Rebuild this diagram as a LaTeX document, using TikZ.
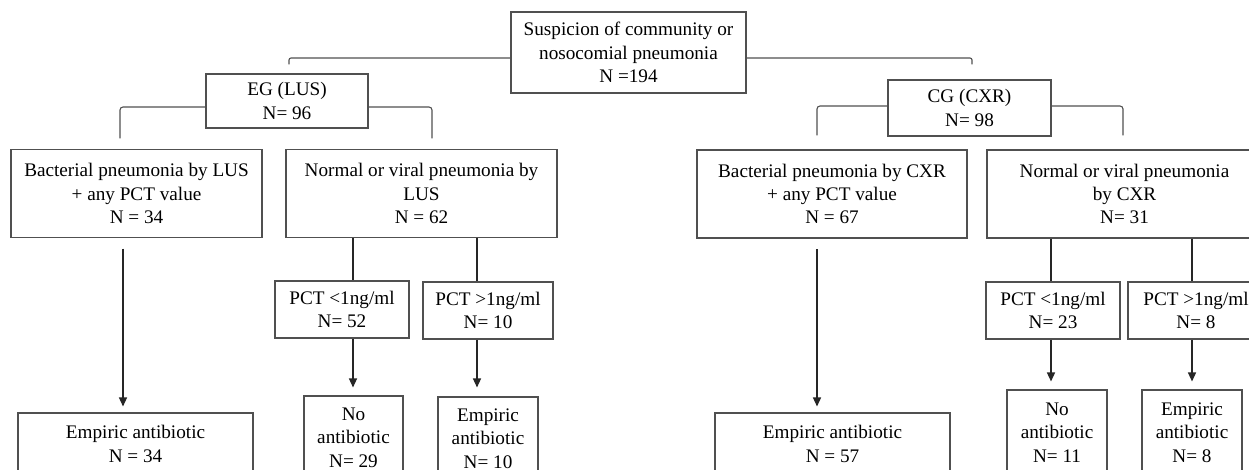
\documentclass[tikz,border=0pt]{standalone}
\usepackage{fontspec}
\setmainfont{Liberation Serif}
\usetikzlibrary{arrows.meta,calc}
\definecolor{boxgray}{RGB}{80,80,80}
\begin{document}
\begin{tikzpicture}[x=1pt,y=-1pt,
  box/.style={draw=boxgray, line width=1.1pt, align=center, inner sep=0pt,
    font=\fontsize{19.2pt}{23.3pt}\selectfont},
  brace/.style={draw=boxgray, line width=1.1pt, rounded corners=3pt},
  link/.style={draw=black!85, line width=1.4pt},
  arr/.style={draw=black!85, line width=1.4pt, -{Triangle[length=9pt,width=8pt]}}]
\useasboundingbox (0,0) rectangle (1249,469);
\clip (0,0) rectangle (1249,469);
\fill[white] (0,0) rectangle (1249,469);

\node[box, minimum width=235pt, minimum height=81pt] (top) at (628.5,52.5)
  {Suspicion of community or\\nosocomial pneumonia\\N =194};
\node[box, minimum width=162pt, minimum height=54pt] (eg) at (287,101) {EG (LUS)\\N= 96};
\node[box, minimum width=163pt, minimum height=56pt] (cg) at (969.5,108) {CG (CXR)\\N= 98};

\node[box, minimum width=251pt, minimum height=88pt] (bl) at (136.5,193.5)
  {Bacterial pneumonia by LUS\\+ any PCT value\\N = 34};
\node[box, minimum width=271pt, minimum height=88pt] (nl) at (421.5,193.5)
  {Normal or viral pneumonia by\\LUS\\N = 62};
\node[box, minimum width=270pt, minimum height=88pt] (bc) at (832,194)
  {Bacterial pneumonia by CXR\\+ any PCT value\\N = 67};
\node[box, minimum width=275pt, minimum height=88pt] (nc) at (1124.5,194)
  {Normal or viral pneumonia\\by CXR\\N= 31};

\node[box, minimum width=134pt, minimum height=57pt] (pl1) at (342,309.5) {PCT <1ng/ml\\N= 52};
\node[box, minimum width=130pt, minimum height=57pt] (pl2) at (488,310.5) {PCT >1ng/ml\\N= 10};
\node[box, minimum width=134pt, minimum height=57pt] (pc1) at (1053,310.5) {PCT <1ng/ml\\N= 23};
\node[box, minimum width=136pt, minimum height=57pt] (pc2) at (1196,310.5) {PCT >1ng/ml\\N= 8};

\node[box, minimum width=235pt, minimum height=62pt] (el) at (135.5,444) {Empiric antibiotic\\N = 34};
\node[box, minimum width=99pt, minimum height=83pt] (nal) at (353.5,437.5) {No\\antibiotic\\N= 29};
\node[box, minimum width=100pt, minimum height=83pt] (eal) at (488,438.5) {Empiric\\antibiotic\\N= 10};
\node[box, minimum width=235pt, minimum height=62pt] (ec) at (832.5,444) {Empiric antibiotic\\N = 57};
\node[box, minimum width=100pt, minimum height=85pt] (nac) at (1057,432.5) {No\\antibiotic\\N= 11};
\node[box, minimum width=100pt, minimum height=85pt] (eac) at (1192,432.5) {Empiric\\antibiotic\\N= 8};

% top level split
\draw[brace, rounded corners=2pt] ([yshift=-5.5pt]top.west) -| ([xshift=2pt,yshift=9pt]eg.north);
\draw[brace, rounded corners=2pt] ([yshift=-5.5pt]top.east) -| ([xshift=2.5pt,yshift=15pt]cg.north);
% EG bracket
\draw[brace] ([yshift=-6pt]eg.west) -| ([xshift=-16.5pt,yshift=10.5pt]bl.north);
\draw[brace] ([yshift=-6pt]eg.east) -| ([xshift=10.5pt,yshift=10.5pt]nl.north);
% CG bracket
\draw[brace] ([yshift=2pt]cg.west) -| ([xshift=-15pt,yshift=14pt]bc.north);
\draw[brace] ([yshift=2pt]cg.east) -| ([xshift=-1.5pt,yshift=14pt]nc.north);

% x positions of vertical links
\coordinate (xa) at (123,0);
\coordinate (xb) at (353,0);
\coordinate (xc) at (477,0);
\coordinate (xd) at (817,0);
\coordinate (xe) at (1051,0);
\coordinate (xf) at (1192,0);

\draw[link] (nl.south -| xb) -- (pl1.north -| xb);
\draw[link] (nl.south -| xc) -- (pl2.north -| xc);
\draw[link] (nc.south -| xe) -- (pc1.north -| xe);
\draw[link] (nc.south -| xf) -- (pc2.north -| xf);

\draw[arr, shorten <=10.5pt, shorten >=6pt] (bl.south -| xa) -- (el.north -| xa);
\draw[arr, shorten <=10.5pt, shorten >=6pt] (bc.south -| xd) -- (ec.north -| xd);
\draw[arr, shorten >=8pt] (pl1.south -| xb) -- (nal.north -| xb);
\draw[arr, shorten >=9pt] (pl2.south -| xc) -- (eal.north -| xc);
\draw[arr, shorten >=8pt] (pc1.south -| xe) -- (nac.north -| xe);
\draw[arr, shorten >=8pt] (pc2.south -| xf) -- (eac.north -| xf);
\end{tikzpicture}
\end{document}
